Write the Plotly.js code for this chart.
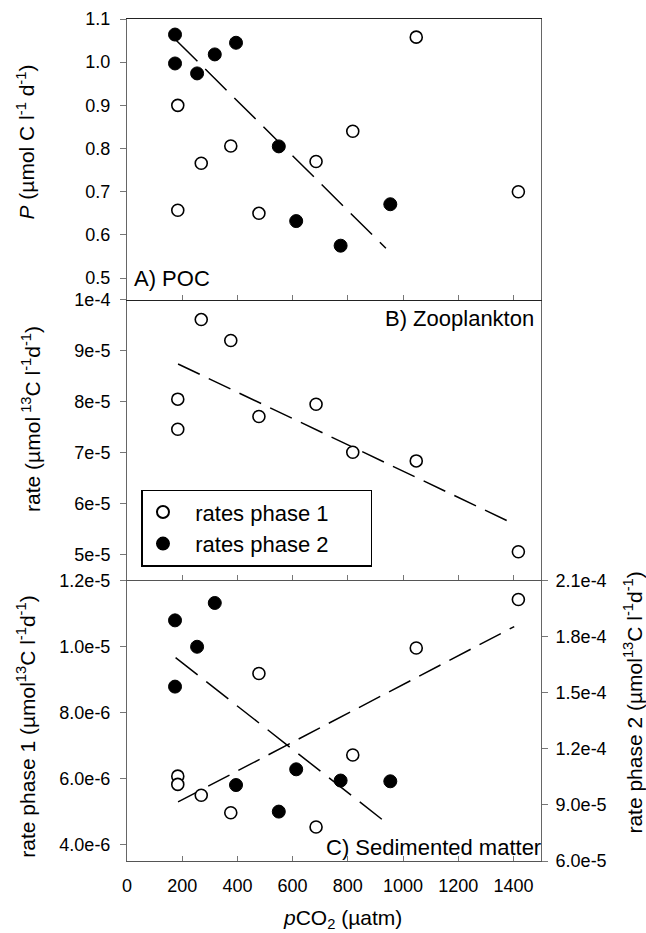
<!DOCTYPE html>
<html><head><meta charset="utf-8">
<script src="https://cdn.plot.ly/plotly-3.0.1.min.js"></script>
<style>html,body{margin:0;padding:0;background:#fff;}#chart{width:646px;height:933px;}</style>
</head><body><div id="chart"></div>
<script>
// pCO2 (µatm) of each mesocosm
const pco2Phase1 = [184, 184, 269, 376, 478, 685, 818, 1048, 1418];
const pco2Phase2 = [174, 174, 254, 318, 395, 550, 613, 774, 954];
// A) POC production
const pocPhase1 = [0.657, 0.900, 0.766, 0.806, 0.650, 0.770, 0.840, 1.058, 0.700];
const pocPhase2 = [1.064, 0.997, 0.974, 1.018, 1.045, 0.805, 0.632, 0.575, 0.671];
// B) Zooplankton
const zooPhase1 = [8.05e-5, 7.46e-5, 9.61e-5, 9.20e-5, 7.71e-5, 7.95e-5, 7.01e-5, 6.84e-5, 5.06e-5];
// C) Sedimented matter
const sedPhase1 = [6.07e-6, 5.82e-6, 5.49e-6, 4.96e-6, 9.18e-6, 4.53e-6, 6.71e-6, 9.95e-6, 1.142e-5];
const sedPhase2 = [1.886e-4, 1.532e-4, 1.745e-4, 1.979e-4, 1.006e-4, 8.64e-5, 1.09e-4, 1.03e-4, 1.026e-4];
// regression lines (end points)
const pocTrendX = [178, 938];
const pocTrendY = [1.051, 0.569];
const zooTrendX = [185, 1400];
const zooTrendY = [8.74e-5, 5.61e-5];
const sedTrend1X = [185, 1403];
const sedTrend1Y = [5.29e-6, 1.06e-5];
const sedTrend2X = [176, 939];
const sedTrend2Y = [1.687e-4, 8.05e-5];
// ticks
const xTicks = [0, 200, 400, 600, 800, 1000, 1200, 1400];
const pocTicks = [0.5, 0.6, 0.7, 0.8, 0.9, 1.0, 1.1];
const pocTickText = ['0.5', '0.6', '0.7', '0.8', '0.9', '1.0', '1.1'];
const zooTicks = [5e-5, 6e-5, 7e-5, 8e-5, 9e-5, 1e-4];
const zooTickText = ['5e-5', '6e-5', '7e-5', '8e-5', '9e-5', '1e-4'];
const sed1Ticks = [4e-6, 6e-6, 8e-6, 1e-5, 1.2e-5];
const sed1TickText = ['4.0e-6', '6.0e-6', '8.0e-6', '1.0e-5', '1.2e-5'];
const sed2Ticks = [6e-5, 9e-5, 1.2e-4, 1.5e-4, 1.8e-4, 2.1e-4];
const sed2TickText = ['6.0e-5', '9.0e-5', '1.2e-4', '1.5e-4', '1.8e-4', '2.1e-4'];
// legend entries
const seriesNames = ['rates phase 1', 'rates phase 2'];

const FONT = 'Liberation Sans, Arial, sans-serif';
const NB = '\u00a0';
const legendName = s => NB + NB + s + NB.repeat(6);
const openMarker = {symbol: 'circle', size: 12, color: '#fff', line: {color: '#000', width: 1.6}};
const fullMarker = {symbol: 'circle', size: 13, color: '#000', line: {color: '#000', width: 1}};
function trend(x, y, xa, ya, dash) {
  return {x: x, y: y, xaxis: xa, yaxis: ya, mode: 'lines', showlegend: false, hoverinfo: 'skip',
          line: {color: '#000', width: 1.5, dash: dash}};
}
const traces = [
  trend(pocTrendX, pocTrendY, 'x3', 'y', '30px,11px'),
  trend(zooTrendX, zooTrendY, 'x2', 'y2', '24px,10px'),
  trend(sedTrend1X, sedTrend1Y, 'x', 'y3', '24px,10px'),
  trend(sedTrend2X, sedTrend2Y, 'x', 'y4', '28px,11px'),
  {x: pco2Phase1, y: pocPhase1, xaxis: 'x3', yaxis: 'y', mode: 'markers', name: legendName(seriesNames[0]),
   legendgroup: 'p1', marker: openMarker},
  {x: pco2Phase2, y: pocPhase2, xaxis: 'x3', yaxis: 'y', mode: 'markers', name: legendName(seriesNames[1]),
   legendgroup: 'p2', marker: fullMarker},
  {x: pco2Phase1, y: zooPhase1, xaxis: 'x2', yaxis: 'y2', mode: 'markers', name: seriesNames[0],
   legendgroup: 'p1', showlegend: false, marker: openMarker},
  {x: pco2Phase1, y: sedPhase1, xaxis: 'x', yaxis: 'y3', mode: 'markers', name: seriesNames[0],
   legendgroup: 'p1', showlegend: false, marker: openMarker},
  {x: pco2Phase2, y: sedPhase2, xaxis: 'x', yaxis: 'y4', mode: 'markers', name: seriesNames[1],
   legendgroup: 'p2', showlegend: false, marker: fullMarker}
];

const xCommon = {range: [0, 1500], tickvals: xTicks, ticks: 'inside', ticklen: 5, tickcolor: '#777',
  showline: true, linecolor: '#555', linewidth: 1, showgrid: false, zeroline: false,
  tickfont: {size: 18, color: '#000'}};
const yCommon = {ticks: 'outside', ticklen: 6, tickcolor: '#777', showline: true, linecolor: '#666',
  linewidth: 1, showgrid: false, zeroline: false, tickfont: {size: 18, color: '#000'},
  ticklabelstandoff: 6};

const layout = {
  width: 646, height: 933,
  margin: {l: 127, r: 105, t: 19, b: 72},
  paper_bgcolor: '#fff', plot_bgcolor: '#fff',
  font: {family: FONT, color: '#000'},
  showlegend: true,
  legend: {x: 0.035, y: 0.441, xanchor: 'left', yanchor: 'top', bgcolor: '#fff',
           bordercolor: '#000', borderwidth: 1.5, font: {size: 22}, traceorder: 'normal',
           itemsizing: 'constant'},
  xaxis: Object.assign({}, xCommon, {domain: [0, 1], anchor: 'y3', ticklabelstandoff: 8}),
  xaxis2: Object.assign({}, xCommon, {matches: 'x', anchor: 'y2', showticklabels: false}),
  xaxis3: Object.assign({}, xCommon, {matches: 'x', anchor: 'y', showticklabels: false, mirror: true, linecolor: '#222'}),
  yaxis: Object.assign({}, yCommon, {domain: [2/3, 1], anchor: 'x3', range: [0.45, 1.1],
    tickvals: pocTicks, ticktext: pocTickText, mirror: true}),
  yaxis2: Object.assign({}, yCommon, {domain: [1/3, 2/3], anchor: 'x2', range: [4.5e-5, 1e-4],
    tickvals: zooTicks, ticktext: zooTickText, mirror: true}),
  yaxis3: Object.assign({}, yCommon, {domain: [0, 1/3], anchor: 'x', range: [3.5e-6, 1.2e-5],
    tickvals: sed1Ticks, ticktext: sed1TickText}),
  yaxis4: Object.assign({}, yCommon, {overlaying: 'y3', side: 'right', anchor: 'x', range: [6e-5, 2.1e-4],
    tickvals: sed2Ticks, ticktext: sed2TickText, ticklabelstandoff: 4}),
  annotations: [
    {text: '<i>P</i> (µmol C l<sup>-1</sup> d<sup>-1</sup>)', xref: 'paper', yref: 'paper', x: -0.245, y: 0.854,
     textangle: -90, showarrow: false, xanchor: 'center', yanchor: 'middle', font: {size: 21}},
    {text: 'rate (µmol<sup> 13</sup>C l<sup>-1</sup>d<sup>-1</sup>)', xref: 'paper', yref: 'paper', x: -0.232, y: 0.525,
     textangle: -90, showarrow: false, xanchor: 'center', yanchor: 'middle', font: {size: 21}},
    {text: 'rate phase 1 (µmol<sup>13</sup>C l<sup>-1</sup>d<sup>-1</sup>)', xref: 'paper', yref: 'paper', x: -0.243, y: 0.160,
     textangle: -90, showarrow: false, xanchor: 'center', yanchor: 'middle', font: {size: 21}},
    {text: 'rate phase 2 (µmol<sup>13</sup>C l<sup>-1</sup>d<sup>-1</sup>)', xref: 'paper', yref: 'paper', x: 1.222, y: 0.188,
     textangle: -90, showarrow: false, xanchor: 'center', yanchor: 'middle', font: {size: 21}},
    {text: '<i>p</i>CO<sub>2</sub> (µatm)', xref: 'paper', yref: 'paper', x: 0.52, y: -0.069,
     showarrow: false, xanchor: 'center', yanchor: 'middle', font: {size: 21}},
    {text: 'A) POC', xref: 'paper', yref: 'paper', x: 0.012, y: 0.674,
     showarrow: false, xanchor: 'left', yanchor: 'bottom', font: {size: 22}},
    {text: 'B) Zooplankton', xref: 'paper', yref: 'paper', x: 0.988, y: 0.661,
     showarrow: false, xanchor: 'right', yanchor: 'top', font: {size: 22}},
    {text: 'C) Sedimented matter', xref: 'paper', yref: 'paper', x: 1.004, y: 0.033,
     showarrow: false, xanchor: 'right', yanchor: 'top', font: {size: 22}}
  ]
};
Plotly.newPlot('chart', traces, layout, {staticPlot: true, displayModeBar: false});
</script>
</body></html>
